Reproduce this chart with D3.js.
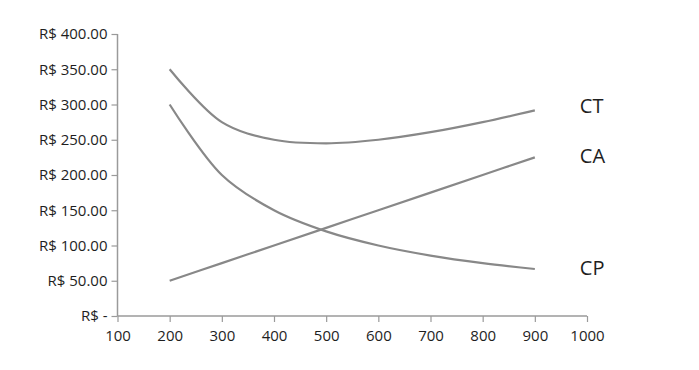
<!DOCTYPE html>
<html><head><meta charset="utf-8">
<script src="https://cdn.jsdelivr.net/npm/d3@7"></script>
<style>body{margin:0;background:#fff;} svg{display:block;}</style>
</head><body>
<svg id="c" width="699" height="370"></svg>
<script>
const quantities = [200, 300, 400, 500, 600, 700, 800, 900];
const CT = [350, 275, 250, 245, 250, 260.7, 275, 291.7];
const CA = [50, 75, 100, 125, 150, 175, 200, 225];
const CP = [300, 200, 150, 120, 100, 85.7, 75, 66.7];
const seriesNames = ["CT", "CA", "CP"];
const xTicks = [100, 200, 300, 400, 500, 600, 700, 800, 900, 1000];
const yTicks = [0, 50, 100, 150, 200, 250, 300, 350, 400];

const svg = d3.select("#c");
const x = d3.scaleLinear().domain([100, 1000]).range([117.5, 587]);
const y = d3.scaleLinear().domain([0, 400]).range([316, 34]);
const font = "'Open Sans', sans-serif";
const axisColor = "#9a9a9a";

const yAxis = svg.append("g").attr("transform", `translate(${x(100)},0)`)
  .call(d3.axisLeft(y).tickValues(yTicks).tickSize(6).tickPadding(4)
    .tickFormat(d => d === 0 ? "R$ -" : "R$ " + d3.format(".2f")(d)));
const xAxis = svg.append("g").attr("transform", `translate(0,${y(0)})`)
  .call(d3.axisBottom(x).tickValues(xTicks).tickSize(6).tickPadding(8).tickFormat(d3.format("d")));
[yAxis, xAxis].forEach(g => {
  g.selectAll("path.domain").attr("stroke", axisColor).attr("stroke-width", 1.5);
  g.selectAll(".tick line").attr("stroke", axisColor).attr("stroke-width", 1.2);
  g.selectAll("text").attr("fill", "#1e1e1e").style("font-family", font).style("font-size", "15px");
});
yAxis.select("path.domain").attr("d", `M0,${y(400)}V${y(0)}`);
xAxis.select("path.domain").attr("d", `M${x(100)},0H${x(1000)}`);

const data = {CT, CA, CP};
const line = d3.line().x((d, i) => x(quantities[i])).y(d => y(d)).curve(d3.curveCatmullRom.alpha(0.5));
seriesNames.forEach(name => {
  const vals = data[name];
  svg.append("path").attr("d", line(vals)).attr("fill", "none")
    .attr("stroke", "#888").attr("stroke-width", 2.2);
  svg.append("text").attr("x", x(900) + 45).attr("y", y(vals[vals.length - 1]) + (name === "CT" ? 3 : 6))
    .text(name).attr("fill", "#1e1e1e").style("font-family", font).style("font-size", "20px");
});
</script>
</body></html>
